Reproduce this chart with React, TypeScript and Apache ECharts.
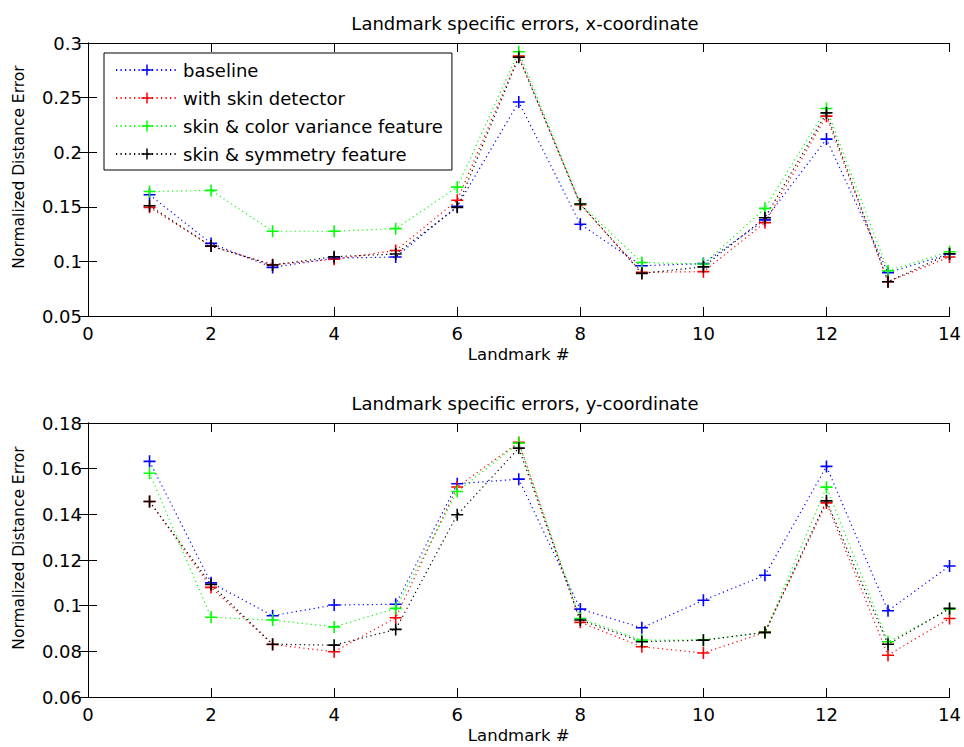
import React, { useEffect, useRef } from "react";
import * as echarts from "echarts";

const landmarks = [1, 2, 3, 4, 5, 6, 7, 8, 9, 10, 11, 12, 13, 14];
const seriesNames = ["baseline", "with skin detector", "skin & color variance feature", "skin & symmetry feature"];
const seriesColors = ["#0000ff", "#ff0000", "#00ff00", "#000000"];

// x-coordinate errors
const xBaseline = [0.161, 0.1165, 0.0945, 0.103, 0.104, 0.1505, 0.246, 0.134, 0.096, 0.098, 0.138, 0.212, 0.0897, 0.1068];
const xSkin = [0.1495, 0.114, 0.097, 0.102, 0.11, 0.156, 0.288, 0.152, 0.09, 0.0906, 0.1355, 0.233, 0.0814, 0.104];
const xColorVar = [0.164, 0.165, 0.1276, 0.1276, 0.13, 0.168, 0.292, 0.1526, 0.099, 0.0976, 0.1486, 0.24, 0.0915, 0.1088];
const xSymmetry = [0.151, 0.114, 0.0967, 0.1043, 0.1068, 0.1495, 0.287, 0.1526, 0.089, 0.095, 0.14, 0.236, 0.0814, 0.107];

// y-coordinate errors
const yBaseline = [0.1632, 0.11, 0.0956, 0.1003, 0.1006, 0.1534, 0.1554, 0.0985, 0.0903, 0.1024, 0.1133, 0.161, 0.0978, 0.1174];
const ySkin = [0.1456, 0.108, 0.083, 0.0798, 0.0947, 0.152, 0.1715, 0.0927, 0.082, 0.0793, 0.0883, 0.145, 0.0783, 0.0944];
const yColorVar = [0.158, 0.0949, 0.0937, 0.0907, 0.0988, 0.15, 0.1712, 0.0944, 0.0849, 0.085, 0.0883, 0.1519, 0.0842, 0.0985];
const ySymmetry = [0.1456, 0.1093, 0.0831, 0.0827, 0.0896, 0.1398, 0.169, 0.0937, 0.0842, 0.0849, 0.0883, 0.1459, 0.0831, 0.0988];

const titles = ["Landmark specific errors, x-coordinate", "Landmark specific errors, y-coordinate"];
const xAxisTitle = "Landmark #";
const yAxisTitle = "Normalized Distance Error";

const FONT = "DejaVu Sans";
const PLUS = "path://M0,5.2 L12,5.2 L12,6.8 L0,6.8 Z M5.2,0 L6.8,0 L6.8,12 L5.2,12 Z";

export default function App() {
  const ref = useRef<HTMLDivElement>(null);
  useEffect(() => {
    if (!ref.current) return;
    const chart = echarts.init(ref.current, null, { renderer: "svg" });
    const grids = [
      { left: 88, top: 43, width: 866, height: 273 },
      { left: 88, top: 423, width: 866, height: 274 },
    ];
    const yRanges = [
      { min: 0.05, max: 0.3, interval: 0.05 },
      { min: 0.06, max: 0.18, interval: 0.02 },
    ];
    const axisLine = { show: true, lineStyle: { color: "#000", width: 1 } };
    const tick = { show: true, inside: true, length: 9, lineStyle: { color: "#000", width: 1 } };
    const labelStyle = { color: "#000", fontFamily: FONT, fontSize: 18 };
    const xAxes: any[] = [];
    const yAxes: any[] = [];
    [0, 1].forEach((g) => {
      xAxes.push({
        type: "value", gridIndex: g, min: 0, max: 14, interval: 2, position: "bottom",
        axisLine, axisTick: tick, splitLine: { show: false },
        axisLabel: { ...labelStyle, margin: 8 },
        name: xAxisTitle, nameLocation: "middle", nameGap: 30,
        nameTextStyle: { color: "#000", fontFamily: FONT, fontSize: 16.5, verticalAlign: "top" },
      });
      xAxes.push({
        type: "value", gridIndex: g, min: 0, max: 14, interval: 2, position: "top",
        axisLine, axisTick: tick, splitLine: { show: false }, axisLabel: { show: false },
      });
      yAxes.push({
        type: "value", gridIndex: g, ...yRanges[g], position: "left",
        axisLine, axisTick: tick, splitLine: { show: false },
        axisLabel: { ...labelStyle, margin: 6 },
      });
      yAxes.push({
        type: "value", gridIndex: g, ...yRanges[g], position: "right",
        axisLine, axisTick: tick, splitLine: { show: false }, axisLabel: { show: false },
      });
    });
    const dataSets = [
      [xBaseline, xSkin, xColorVar, xSymmetry],
      [yBaseline, ySkin, yColorVar, ySymmetry],
    ];
    const series: any[] = [];
    [0, 1].forEach((g) => {
      dataSets[g].forEach((vals, i) => {
        series.push({
          type: "line",
          name: seriesNames[i],
          xAxisIndex: g * 2,
          yAxisIndex: g * 2,
          data: landmarks.map((x, k) => [x, vals[k]]),
          symbol: PLUS,
          symbolSize: 12,
          showAllSymbol: true,
          itemStyle: { color: seriesColors[i] },
          lineStyle: { color: seriesColors[i], width: 1.2, type: [1.2, 3.3] },
          emphasis: { disabled: true },
          silent: true,
        });
      });
    });
    chart.setOption({
      animation: false,
      backgroundColor: "#fff",
      title: [0, 1].map((g) => ({
        text: titles[g],
        left: 520,
        textAlign: "center",
        top: g === 0 ? 9 : 389,
        textStyle: { color: "#000", fontFamily: FONT, fontSize: 18, fontWeight: "normal" },
      })),
      graphic: [0, 1].map((g) => ({
        type: "text",
        x: 19,
        y: g === 0 ? 167 : 548,
        rotation: Math.PI / 2,
        style: {
          text: yAxisTitle,
          fill: "#000",
          font: `15.5px "${FONT}"`,
          align: "center",
          verticalAlign: "middle",
        },
      })),
      grid: grids,
      xAxis: xAxes,
      yAxis: yAxes,
      legend: {
        data: seriesNames,
        orient: "vertical",
        left: 104,
        top: 53,
        padding: [7, 9, 6, 11],
        itemGap: 8,
        itemWidth: 62,
        itemHeight: 14,
        backgroundColor: "#fff",
        borderColor: "#000",
        borderWidth: 1,
        borderRadius: 0,
        textStyle: { color: "#000", fontFamily: FONT, fontSize: 18, lineHeight: 20 },
      },
      series,
    });
    return () => chart.dispose();
  }, []);
  return <div ref={ref} style={{ position: "fixed", left: 0, top: 0, width: 964, height: 747 }} />;
}
